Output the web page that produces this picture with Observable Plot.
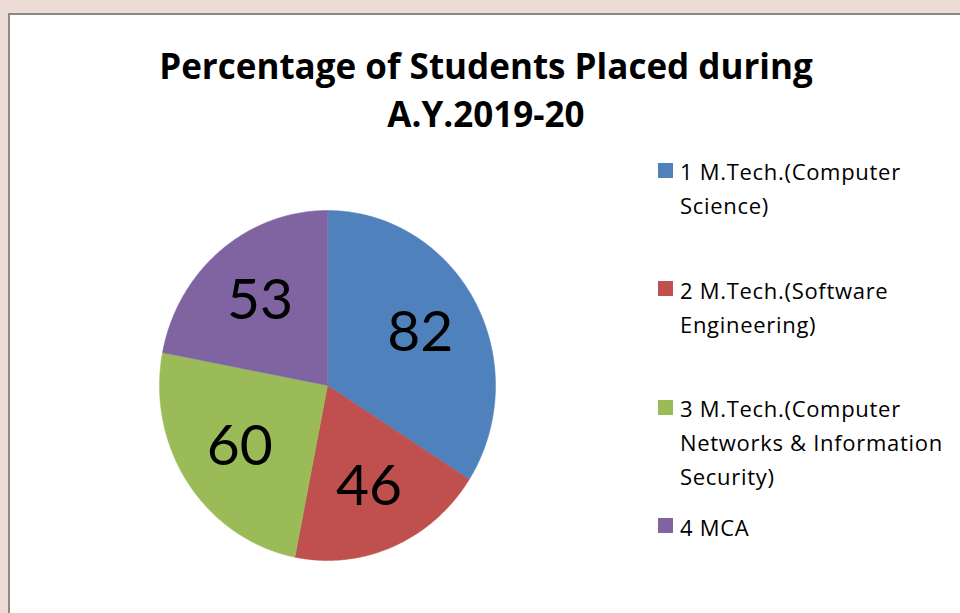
<!DOCTYPE html>
<html>
<head>
<meta charset="utf-8">
<script src="https://cdn.jsdelivr.net/npm/d3@7"></script>
<script src="https://cdn.jsdelivr.net/npm/@observablehq/plot@0.6"></script>
<style>
  html, body { margin: 0; padding: 0; }
  body { width: 960px; height: 613px; overflow: hidden; position: relative; background: #eddcd6; font-family: "Open Sans", Lato, sans-serif; }
  #frame { position: absolute; left: 8px; top: 13px; width: 1000px; height: 700px; background: #fff; border-left: 2px solid #8a8a8a; border-top: 2px solid #8a8a8a; }
  #chart { position: absolute; left: 0; top: 0; }
  #title { position: absolute; left: 0; width: 972px; top: 42.4px; text-align: center; font-weight: bold; font-size: 35px; line-height: 48px; color: #000; }
  .item { position: absolute; left: 680px; font-size: 22px; line-height: 34px; letter-spacing: 0.7px; color: #000; white-space: pre-line; }
  .sw { position: absolute; left: -22px; top: 8.5px; width: 15px; height: 15px; }
</style>
</head>
<body>
<div id="frame"></div>
<div id="chart"></div>
<div id="title"></div>
<div id="legend"></div>
<script>
// ---- data ----
const titleLines = ["Percentage of Students Placed during", "A.Y.2019-20"];
const categories = [
  "1 M.Tech.(Computer\nScience)",
  "2 M.Tech.(Software\nEngineering)",
  "3 M.Tech.(Computer\nNetworks & Information\nSecurity)",
  "4 MCA"
];
const values = [82, 46, 60, 53];
const colors = ["#4f81bd", "#c0504d", "#9bbb59", "#8064a2"];

// ---- derived slice geometry (unit circle, clockwise from 12 o'clock) ----
const total = d3.sum(values);
const slices = [];
let acc = 0;
values.forEach((v, i) => {
  const a0 = acc / total * 2 * Math.PI;
  acc += v;
  const a1 = acc / total * 2 * Math.PI;
  slices.push({name: categories[i], value: v, a0, a1});
});
const pts = [];
for (const s of slices) {
  pts.push({name: s.name, x: 0, y: 0});
  const n = Math.max(2, Math.ceil((s.a1 - s.a0) / (Math.PI / 360)));
  for (let k = 0; k <= n; k++) {
    const a = s.a0 + (s.a1 - s.a0) * k / n;
    pts.push({name: s.name, x: Math.sin(a), y: Math.cos(a)});
  }
  pts.push({name: s.name, x: 0, y: 0});
}
const labels = slices.map(s => {
  const m = (s.a0 + s.a1) / 2;
  return {name: s.name, value: s.value, x: 0.63 * Math.sin(m), y: 0.63 * Math.cos(m)};
});

const chart = Plot.plot({
  width: 960,
  height: 613,
  margin: 0,
  style: {background: "transparent", overflow: "visible"},
  x: {domain: [-1, 1], range: [159, 495], axis: null},
  y: {domain: [-1, 1], range: [560, 210], axis: null},
  color: {domain: categories, range: colors},
  marks: [
    Plot.line(pts, {x: "x", y: "y", z: "name", fill: "name", stroke: "name", strokeWidth: 0.5, curve: "linear"}),
    Plot.text(labels, {x: "x", y: "y", text: d => String(d.value), fontSize: 57, fill: "#000", fontFamily: "Lato, sans-serif", textAnchor: "middle", lineAnchor: "middle"})
  ]
});
document.getElementById("chart").appendChild(chart);

// ---- title ----
document.getElementById("title").innerHTML = titleLines.map(t => t.replace(/&/g, "&amp;")).join("<br>");

// ---- legend ----
const legend = document.getElementById("legend");
categories.forEach((c, i) => {
  const div = document.createElement("div");
  div.className = "item";
  div.style.top = (154 + i * 118.5) + "px";
  div.textContent = c;
  const sw = document.createElement("span");
  sw.className = "sw";
  sw.style.background = colors[i];
  div.appendChild(sw);
  legend.appendChild(div);
});
</script>
</body>
</html>
